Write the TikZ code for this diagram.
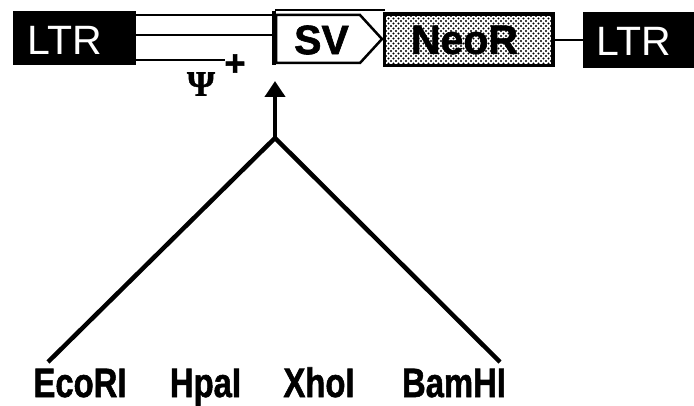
\documentclass[tikz,border=0pt]{standalone}
\usepackage{fontspec}
\setmainfont{Liberation Sans}
\newfontfamily\heavyfont[FakeBold=1.5]{Liberation Sans Bold}
\newfontfamily\psifont[FakeBold=1]{Liberation Serif Bold}
\usetikzlibrary{arrows.meta}
\begin{document}
\begin{tikzpicture}[x=1pt,y=-1pt,
  ltrbox/.style={fill=black,draw=black,line width=1pt,inner sep=0pt},
  toplbl/.style={font=\fontsize{41}{41}\selectfont,inner sep=0pt},
  boldlbl/.style={font=\fontsize{41}{41}\heavyfont,inner sep=0pt},
  botlbl/.style={font=\fontsize{41}{41}\heavyfont,inner sep=0pt,anchor=base,xscale=0.8},
  thinline/.style={line width=1.8pt},
  midline/.style={line width=2.5pt},
  thickline/.style={line width=4.5pt}]
\useasboundingbox (0,0) rectangle (694,406);
% left LTR
\node[ltrbox,minimum width=122pt,minimum height=53pt] (ltrL) at (74,38.5) {};
\node[toplbl,text=white] (ltrLt) at (65,40) {LTR};
% vertical end line
\coordinate (vt) at (274,11);
\coordinate (vb) at (274,65);
\draw[line width=3.5pt] (vt) -- (vb);
% three lines
\draw[thinline] (ltrL.east |- 0,15) -- (vt |- 0,15);
\draw[midline] (ltrL.east |- 0,35) -- (vt |- 0,35);
\draw[thinline] (ltrL.east |- 0,60) -- (225,60);
% top line over SV
\coordinate (svtl) at (275,10);
\coordinate (svtr) at (385,10);
\draw[thinline] (svtl) -- (svtr);
% SV pentagon
\coordinate (s1) at (276,15);
\coordinate (s2) at (360,15);
\coordinate (s3) at (382,39);
\coordinate (s4) at (360,63);
\coordinate (s5) at (276,63);
\draw[midline,line join=miter] (s1) -- (s2) -- (s3) -- (s4) -- (s5) -- cycle;
\node[boldlbl] (sv) at (321.5,40) {SV};
% NeoR
\node[draw=black,line width=2.5pt,fill=white,minimum width=167pt,minimum height=50pt,inner sep=0pt] (neo) at (468.5,40) {};
\begin{scope}
\clip (neo.south west) rectangle (neo.north east);
\foreach \i in {0,...,34}{
  \foreach \j in {0,...,10}{
    \fill (386+5*\i,16+5*\j) circle (1.1pt);
    \fill (388.5+5*\i,18.5+5*\j) circle (1.1pt);
  }
}
\end{scope}
\draw[line width=2.5pt] (neo.south west) rectangle (neo.north east);
\node[boldlbl] (neot) at (464.5,40) {NeoR};
% right LTR
\node[ltrbox,minimum width=111pt,minimum height=55pt] (ltrR) at (638.5,40.5) {};
\node[toplbl,text=white] (ltrRt) at (634,41) {LTR};
\draw[midline] (neo.east) -- (ltrR.west |- neo.east);
% Psi+
\node[inner sep=0pt,font=\fontsize{36}{36}\psifont] (psi) at (201,84) {Ψ};
\node[inner sep=0pt,font=\fontsize{36}{36}\heavyfont] (plus) at (235,65) {+};
% arrow and branches
\coordinate (apex) at (275,138);
\coordinate (tip) at (275,81);
\coordinate (eco) at (48,362);
\coordinate (bam) at (500,362);
\draw[thickline,-{Triangle[width=20pt,length=16pt]}] (apex) -- (tip);
\draw[thickline,line join=miter] (eco) -- (apex) -- (bam);
% enzyme labels
\node[botlbl] (l1) at (80,397) {EcoRI};
\node[botlbl] (l2) at (205.5,397) {HpaI};
\node[botlbl] (l3) at (319,397) {XhoI};
\node[botlbl] (l4) at (454,397) {BamHI};
\end{tikzpicture}
\end{document}
